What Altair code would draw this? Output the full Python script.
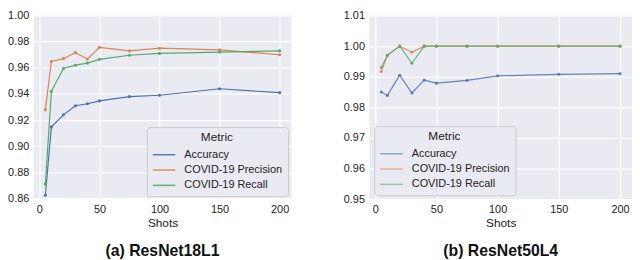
import altair as alt
import pandas as pd

shots = [5, 10, 20, 30, 40, 50, 75, 100, 150, 200]
metrics = ["Accuracy", "COVID-19 Precision", "COVID-19 Recall"]

# (a) ResNet18L1
a_acc = [0.8625, 0.9148, 0.924, 0.931, 0.9325, 0.9347, 0.938, 0.939, 0.944, 0.941]
a_prec = [0.928, 0.9648, 0.967, 0.9716, 0.9667, 0.9757, 0.973, 0.975, 0.9737, 0.970]
a_rec = [0.871, 0.942, 0.9595, 0.962, 0.9636, 0.9665, 0.9696, 0.971, 0.972, 0.973]

# (b) ResNet50L4
b_acc = [0.985, 0.9839, 0.9905, 0.9847, 0.9889, 0.9879, 0.9888, 0.9903, 0.9908, 0.991]
b_prec = [0.9917, 0.997, 1.0, 0.998, 1.0, 1.0, 1.0, 1.0, 1.0, 1.0]
b_rec = [0.993, 0.997, 1.0, 0.9944, 1.0, 1.0, 1.0, 1.0, 1.0, 1.0]

x_ticks = [0, 50, 100, 150, 200]
a_ticks = [0.86, 0.88, 0.90, 0.92, 0.94, 0.96, 0.98, 1.00]
b_ticks = [0.95, 0.96, 0.97, 0.98, 0.99, 1.00, 1.01]

colors = ["#4C72B0", "#DD8452", "#55A868"]
FONT = "Liberation Sans"
BG = "#EAEAF2"


def long_df(acc, prec, rec):
    rows = []
    for name, vals in zip(metrics, [acc, prec, rec]):
        for s, v in zip(shots, vals):
            rows.append({"Shots": s, "Value": v, "Metric": name})
    return pd.DataFrame(rows)


def panel(df, ydom, yticks, title, lx, ly, w, op, lop):
    x = alt.X("Shots:Q", title="Shots",
              scale=alt.Scale(domain=[-4.75, 209.75], nice=False, zero=False),
              axis=alt.Axis(values=x_ticks, format="d"))
    y = alt.Y("Value:Q", title=None,
              scale=alt.Scale(domain=ydom, nice=False, zero=False),
              axis=alt.Axis(values=yticks, format=".2f"))
    color = alt.Color("Metric:N",
                      scale=alt.Scale(domain=metrics, range=colors),
                      legend=alt.Legend(orient="none", legendX=lx, legendY=ly,
                                        title="Metric", titleAnchor="middle",
                                        symbolType="stroke", symbolSize=520,
                                        symbolStrokeWidth=1.5, symbolOpacity=lop,
                                        clipHeight=12, rowPadding=3.5,
                                        labelOffset=8, titlePadding=5,
                                        padding=5, fillColor=BG,
                                        strokeColor="#CCCCCC", cornerRadius=3,
                                        labelFontSize=11, titleFontSize=12,
                                        titleFontWeight="normal",
                                        titleFont=FONT, labelFont=FONT,
                                        titleColor="#222", labelColor="#222"))
    base = alt.Chart(df).encode(x=x, y=y, color=color)
    lines = base.mark_line(strokeWidth=1.2, opacity=op)
    pts = base.mark_circle(size=10, opacity=op)
    return (lines + pts).properties(
        width=w, height=186,
        title=alt.TitleParams(title, orient="bottom", fontSize=16,
                              fontWeight="bold", font=FONT, color="#111",
                              offset=15),
    )


left = panel(long_df(a_acc, a_prec, a_rec), [0.8595, 1.0], a_ticks,
             "(a) ResNet18L1", 114.6, 113, 261, 1.0, 0.9)
right = panel(long_df(b_acc, b_prec, b_rec), [0.95, 1.01], b_ticks,
              "(b) ResNet50L4", 5, 112, 266, 0.85, 0.6)

chart = alt.hconcat(left, right, spacing=52).resolve_scale(
    color="independent").resolve_legend(color="independent").properties(
    padding={"left": -1, "top": 0, "right": 0, "bottom": 0}
).configure_view(
    fill=BG, stroke=None
).configure_axis(
    grid=True, gridColor="white", gridWidth=1.2, domain=False, ticks=False,
    tickSize=0,
    labelFont=FONT, titleFont=FONT, labelFontSize=11, titleFontSize=12,
    labelColor="#222", titleColor="#222", titleFontWeight="normal",
    labelPadding=5, titlePadding=3
)

chart.save("out.html", embed_options={"renderer": "svg", "actions": False})
